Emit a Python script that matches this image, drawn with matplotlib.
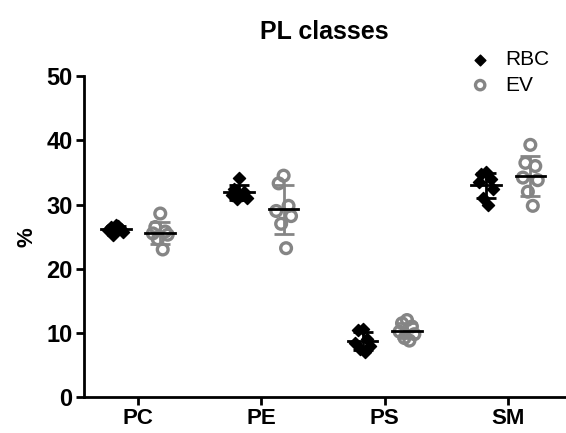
import numpy as np
import matplotlib
matplotlib.use("Agg")
import matplotlib.pyplot as plt

plt.rcParams['font.family'] = ['Liberation Sans', 'DejaVu Sans']

classes = ["PC", "PE", "PS", "SM"]
rbc = {
    "PC": [26.8, 26.5, 26.2, 26.0, 25.8, 25.3, 26.6],
    "PE": [34.2, 32.5, 32.0, 31.5, 31.0, 30.8, 31.5],
    "PS": [10.6, 10.4, 9.0, 8.5, 8.0, 7.5, 7.0],
    "SM": [35.0, 34.8, 34.0, 33.5, 32.5, 31.0, 30.0],
}
ev = {
    "PC": [28.6, 26.5, 25.8, 25.5, 25.3, 24.6, 23.0],
    "PE": [34.5, 33.3, 29.8, 29.0, 28.2, 27.0, 23.2],
    "PS": [12.0, 11.5, 11.0, 10.2, 9.8, 9.2, 8.8],
    "SM": [39.3, 36.5, 36.0, 34.2, 33.8, 32.0, 29.8],
}

# small horizontal spread so points don't sit on one line
jit = np.array([0.0, -0.04, 0.04, -0.06, 0.06, -0.02, 0.02])

gray = "#858585"
fig = plt.figure(figsize=(5.66, 4.33), dpi=100)
ax = fig.add_axes([0.148, 0.083, 0.85, 0.741])

for i, c in enumerate(classes):
    for vals, off, col, mk in [(rbc[c], -0.18, "black", "D"), (ev[c], 0.18, gray, "o")]:
        v = np.array(vals)
        x = i + off
        if mk == "D":
            ax.scatter(x + jit, v, marker="D", s=38, color="black", zorder=3, clip_on=False)
        else:
            ax.scatter(x + jit, v, marker="o", s=60, facecolor="none", edgecolor=gray,
                       linewidth=2.4, zorder=3, clip_on=False)
        m, sd = v.mean(), v.std(ddof=1)
        ax.errorbar(x, m, yerr=sd, color=col, capsize=7, capthick=2, elinewidth=2, zorder=4)
        ax.plot([x - 0.12, x + 0.12], [m, m], color="black", lw=2, zorder=5)

ax.set_xlim(-0.44, 3.46)
ax.set_ylim(0, 50)
ax.set_xticks(range(4))
ax.set_xticklabels(classes, fontsize=16, fontweight="bold")
ax.set_yticks(range(0, 51, 10))
ax.set_yticklabels([str(t) for t in range(0, 51, 10)], fontsize=17, fontweight="bold")
ax.set_ylabel("%", fontsize=16, fontweight="bold", labelpad=6)
ax.set_title("PL classes", fontsize=18, fontweight="bold", pad=27)
for s in ["top", "right"]:
    ax.spines[s].set_visible(False)
for s in ["left", "bottom"]:
    ax.spines[s].set_linewidth(2)
ax.tick_params(width=2, length=6, direction="out", pad=2)

ax.scatter([], [], marker="D", s=30, color="black", label="RBC")
ax.scatter([], [], marker="o", s=45, facecolor="none", edgecolor=gray, linewidth=2.4, label="EV")
fig.legend(loc="upper left", bbox_to_anchor=(451 / 566, 1 - 42 / 433), frameon=False,
           fontsize=15, handletextpad=0.2, labelspacing=0.3, borderaxespad=0)

fig.savefig("out.png")
plt.close(fig)
